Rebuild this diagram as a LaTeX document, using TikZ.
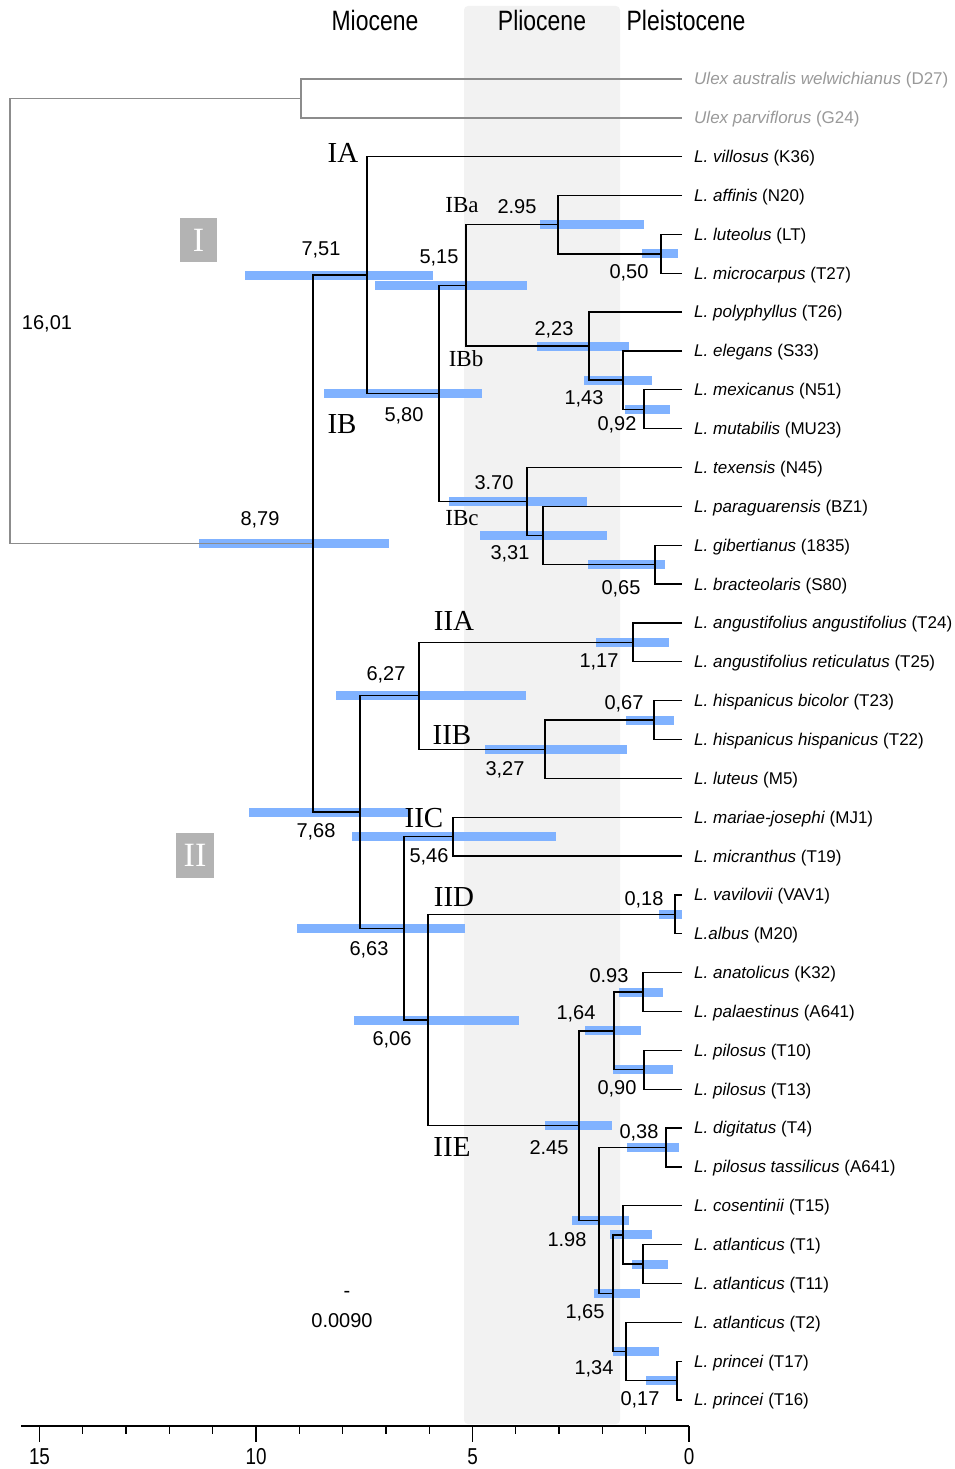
\documentclass[tikz,border=0pt]{standalone}
\usepackage{fontspec}
\setmainfont{Liberation Sans}
\newfontfamily\clsfont{Liberation Serif}
\definecolor{barblue}{HTML}{80B2FF}
\definecolor{bandgray}{HTML}{F2F2F2}
\definecolor{boxgray}{HTML}{B3B3B3}
\definecolor{oggray}{HTML}{8C8C8C}
\definecolor{ogtext}{HTML}{999999}
\tikzset{
  br/.style={line width=1.3pt, black},
  ogbr/.style={line width=1.3pt, color=oggray},
  hpdbar/.style={line width=9pt, color=barblue},
  num/.style={font=\fontsize{20}{24}\selectfont, inner sep=0pt, yshift=-2pt},
  leaf/.style={anchor=west, font=\fontsize{17}{20}\selectfont, inner sep=0pt, yshift=-1.5pt},
  clade/.style={font=\clsfont\fontsize{29}{32}\selectfont, inner sep=0pt, yshift=-1pt},
  subclade/.style={font=\clsfont\fontsize{23}{26}\selectfont, inner sep=0pt},
  period/.style={font=\fontsize{28}{32}\selectfont, inner sep=0pt},
  romanbox/.style={fill=boxgray, text=white, inner sep=0pt, font=\clsfont\fontsize{34}{36}\selectfont},
  axlab/.style={font=\fontsize{23}{26}\selectfont, inner sep=0pt, yshift=-1.5pt},
}
\newcommand\lf[4]{\coordinate (#1) at (682,#2); \node[leaf] (#1t) at (694,#2) {\textit{#3} (#4)};}
\newcommand\ogl[4]{\coordinate (#1) at (682,#2); \node[leaf, text=ogtext] (#1t) at (694,#2) {\textit{#3} (#4)};}
\newcommand\brn[3]{\draw[br] (#2) -| (#1) |- (#3);}
\newcommand\hpd[3]{\draw[hpdbar] (#2,0 |- #1) -- (#3,0 |- #1);}
\begin{document}
\begin{tikzpicture}[x=1pt,y=-1pt]
\useasboundingbox (0,0) rectangle (955,1469);
% Pliocene band
\fill[bandgray, rounded corners=4pt] (464,6) rectangle (620,1424);
% period titles
\node[period] (mio) at (375,20) {\scalebox{0.82}[1]{Miocene}};
\node[period] (pli) at (542,20) {\scalebox{0.82}[1]{Pliocene}};
\node[period] (ple) at (686,20) {\scalebox{0.82}[1]{Pleistocene}};
% leaves
\ogl{lD27}{79.0}{Ulex australis welwichianus}{D27}
\ogl{lG24}{117.9}{Ulex parviflorus}{G24}
\lf{lK36}{156.7}{L. villosus}{K36}
\lf{lN20}{195.6}{L. affinis}{N20}
\lf{lLT}{234.4}{L. luteolus}{LT}
\lf{lT27}{273.3}{L. microcarpus}{T27}
\lf{lT26}{312.1}{L. polyphyllus}{T26}
\lf{lS33}{351.0}{L. elegans}{S33}
\lf{lN51}{389.8}{L. mexicanus}{N51}
\lf{lMU23}{428.7}{L. mutabilis}{MU23}
\lf{lN45}{467.5}{L. texensis}{N45}
\lf{lBZ1}{506.4}{L. paraguarensis}{BZ1}
\lf{l1835}{545.2}{L. gibertianus}{1835}
\lf{lS80}{584.1}{L. bracteolaris}{S80}
\lf{lT24}{623.0}{L. angustifolius angustifolius}{T24}
\lf{lT25}{661.8}{L. angustifolius reticulatus}{T25}
\lf{lT23}{700.6}{L. hispanicus bicolor}{T23}
\lf{lT22}{739.5}{L. hispanicus hispanicus}{T22}
\lf{lM5}{778.4}{L. luteus}{M5}
\lf{lMJ1}{817.2}{L. mariae-josephi}{MJ1}
\lf{lT19}{856.1}{L. micranthus}{T19}
\lf{lVAV1}{894.9}{L. vavilovii}{VAV1}
\lf{lM20}{933.8}{L.albus}{M20}
\lf{lK32}{972.6}{L. anatolicus}{K32}
\lf{lA641}{1011.5}{L. palaestinus}{A641}
\lf{lT10}{1050.3}{L. pilosus}{T10}
\lf{lT13}{1089.2}{L. pilosus}{T13}
\lf{lT4}{1128.0}{L. digitatus}{T4}
\lf{lTass}{1166.9}{L. pilosus tassilicus}{A641}
\lf{lT15}{1205.7}{L. cosentinii}{T15}
\lf{lT1}{1244.6}{L. atlanticus}{T1}
\lf{lT11}{1283.4}{L. atlanticus}{T11}
\lf{lT2}{1322.3}{L. atlanticus}{T2}
\lf{lT17}{1361.2}{L. princei}{T17}
\lf{lT16}{1400.0}{L. princei}{T16}
% internal nodes
\coordinate (root) at (10,321);
\coordinate (og) at (301,98.45);
\coordinate (n879) at (313,543.6);
\coordinate (n751) at (367,275.1);
\coordinate (n580) at (439,393.45);
\coordinate (n515) at (466,285.4);
\coordinate (n295) at (558,224.7);
\coordinate (n050) at (661,253.85);
\coordinate (n223) at (589,346.1);
\coordinate (n143) at (623,380.1);
\coordinate (n092) at (644,409.25);
\coordinate (n370) at (527,501.5);
\coordinate (n331) at (543,535.5);
\coordinate (n065) at (655,564.65);
\coordinate (n768) at (360,812.05);
\coordinate (n627) at (419,695.8);
\coordinate (n117) at (633,642.4);
\coordinate (n327) at (545,749.2);
\coordinate (n067) at (654,720.05);
\coordinate (n663) at (404,928.3);
\coordinate (n546) at (453,836.65);
\coordinate (n606) at (428,1020);
\coordinate (n018) at (675,914.35);
\coordinate (n245) at (579,1125.6);
\coordinate (n164) at (614,1030.9);
\coordinate (n093) at (643,992.05);
\coordinate (n090) at (644,1069.75);
\coordinate (n198) at (599,1220.3);
\coordinate (n038) at (666,1147.45);
\coordinate (n165) at (613,1293.15);
\coordinate (nA) at (623,1234.85);
\coordinate (nB) at (643,1264);
\coordinate (n134) at (626,1351.45);
\coordinate (n017) at (677,1380.6);
% HPD bars
\hpd{n879}{199}{389}
\hpd{n751}{245}{433}
\hpd{n515}{375}{527}
\hpd{n295}{540}{644}
\hpd{n050}{642}{678}
\hpd{n223}{537}{629}
\hpd{n143}{584}{652}
\hpd{n092}{625}{670}
\hpd{n580}{324}{482}
\hpd{n370}{449}{587}
\hpd{n331}{480}{607}
\hpd{n065}{588}{665}
\hpd{n768}{249}{410}
\hpd{n627}{336}{526}
\hpd{n117}{596}{669}
\hpd{n327}{485}{627}
\hpd{n067}{626}{674}
\hpd{n663}{297}{465}
\hpd{n546}{352}{556}
\hpd{n606}{354}{519}
\hpd{n018}{659}{682}
\hpd{n245}{545}{612}
\hpd{n164}{585}{641}
\hpd{n093}{619}{663}
\hpd{n090}{613}{673}
\hpd{n198}{572}{629}
\hpd{n038}{627}{679}
\hpd{n165}{594}{640}
\hpd{nA}{610}{652}
\hpd{nB}{632}{668}
\hpd{n134}{613}{659}
\hpd{n017}{646}{678}
% outgroup branches
\draw[ogbr] (og) -| (root) |- (n879);
\draw[ogbr] (lD27) -| (og) |- (lG24);
% ingroup branches
\brn{n879}{n751}{n768}
\brn{n751}{lK36}{n580}
\brn{n580}{n515}{n370}
\brn{n515}{n295}{n223}
\brn{n295}{lN20}{n050}
\brn{n050}{lLT}{lT27}
\brn{n223}{lT26}{n143}
\brn{n143}{lS33}{n092}
\brn{n092}{lN51}{lMU23}
\brn{n370}{lN45}{n331}
\brn{n331}{lBZ1}{n065}
\brn{n065}{l1835}{lS80}
\brn{n768}{n627}{n663}
\brn{n627}{n117}{n327}
\brn{n117}{lT24}{lT25}
\brn{n327}{n067}{lM5}
\brn{n067}{lT23}{lT22}
\brn{n663}{n546}{n606}
\brn{n546}{lMJ1}{lT19}
\brn{n606}{n018}{n245}
\brn{n018}{lVAV1}{lM20}
\brn{n245}{n164}{n198}
\brn{n164}{n093}{n090}
\brn{n093}{lK32}{lA641}
\brn{n090}{lT10}{lT13}
\brn{n198}{n038}{n165}
\brn{n038}{lT4}{lTass}
\brn{n165}{nA}{n134}
\brn{nA}{lT15}{nB}
\brn{nB}{lT1}{lT11}
\brn{n134}{lT2}{n017}
\brn{n017}{lT17}{lT16}
% age labels
\node[num] (t1601) at (47,322) {16,01};
\node[num] (t879) at (260,518) {8,79};
\node[num] (t751) at (321,248) {7,51};
\node[num] (t515) at (439,256) {5,15};
\node[num] (t295) at (517,205) {2.95};
\node[num] (t050) at (629,271) {0,50};
\node[num] (t223) at (554,328) {2,23};
\node[num] (t143) at (584,397) {1,43};
\node[num] (t092) at (617,423) {0,92};
\node[num] (t580) at (404,414) {5,80};
\node[num] (t370) at (494,481) {3.70};
\node[num] (t331) at (510,552) {3,31};
\node[num] (t065) at (621,587) {0,65};
\node[num] (t768) at (316,830) {7,68};
\node[num] (t627) at (386,673) {6,27};
\node[num] (t117) at (599,660) {1,17};
\node[num] (t327) at (505,768) {3,27};
\node[num] (t067) at (624,702) {0,67};
\node[num] (t663) at (369,948) {6,63};
\node[num] (t546) at (429,855) {5,46};
\node[num] (t606) at (392,1038) {6,06};
\node[num] (t018) at (644,898) {0,18};
\node[num] (t245) at (549,1146) {2.45};
\node[num] (t164) at (576,1012) {1,64};
\node[num] (t093) at (609,974) {0.93};
\node[num] (t090) at (617,1087) {0,90};
\node[num] (t198) at (567,1238) {1.98};
\node[num] (t038) at (639,1131) {0,38};
\node[num] (t165) at (585,1311) {1,65};
\node[num] (t134) at (594,1367) {1,34};
\node[num] (t017) at (640,1398) {0,17};
% scale bar
\node[num] (sbar) at (347,1292) {-};
\node[num] (sval) at (342,1319) {0.0090};
% clade labels
\node[clade] (cIA) at (343,152) {IA};
\node[clade] (cIB) at (342,423) {IB};
\node[subclade] (cIBa) at (462,205) {IBa};
\node[subclade] (cIBb) at (466,359) {IBb};
\node[subclade] (cIBc) at (462,518) {IBc};
\node[clade] (cIIA) at (454,620) {IIA};
\node[clade] (cIIB) at (452,734) {IIB};
\node[clade] (cIIC) at (424,817) {IIC};
\node[clade] (cIID) at (454,896) {IID};
\node[clade] (cIIE) at (452,1146) {IIE};
% roman boxes
\node[romanbox, minimum width=37pt, minimum height=44pt] (gI) at (198.5,240) {I};
\node[romanbox, minimum width=38pt, minimum height=45pt] (gII) at (195,855.5) {II};
% axis
\coordinate (axL) at (21,1426);
\coordinate (axR) at (689,1426);
\draw[line width=1.3pt] (axL) -- (axR);
\foreach \k in {0,...,15}{
  \pgfmathsetmacro\tx{689-43.3*\k}
  \pgfmathtruncatemacro\md{mod(\k,5)}
  \ifnum\md=0
    \draw[line width=1.3pt] (\tx,1426) -- (\tx,1442);
  \else
    \draw[line width=1.3pt] (\tx,1426) -- (\tx,1434);
  \fi
}
\node[axlab] (a15) at (39.5,1455) {\scalebox{0.82}[1]{15}};
\node[axlab] (a10) at (256,1455) {\scalebox{0.82}[1]{10}};
\node[axlab] (a5) at (472.5,1455) {\scalebox{0.82}[1]{5}};
\node[axlab] (a0) at (689,1455) {\scalebox{0.82}[1]{0}};
\end{tikzpicture}
\end{document}
